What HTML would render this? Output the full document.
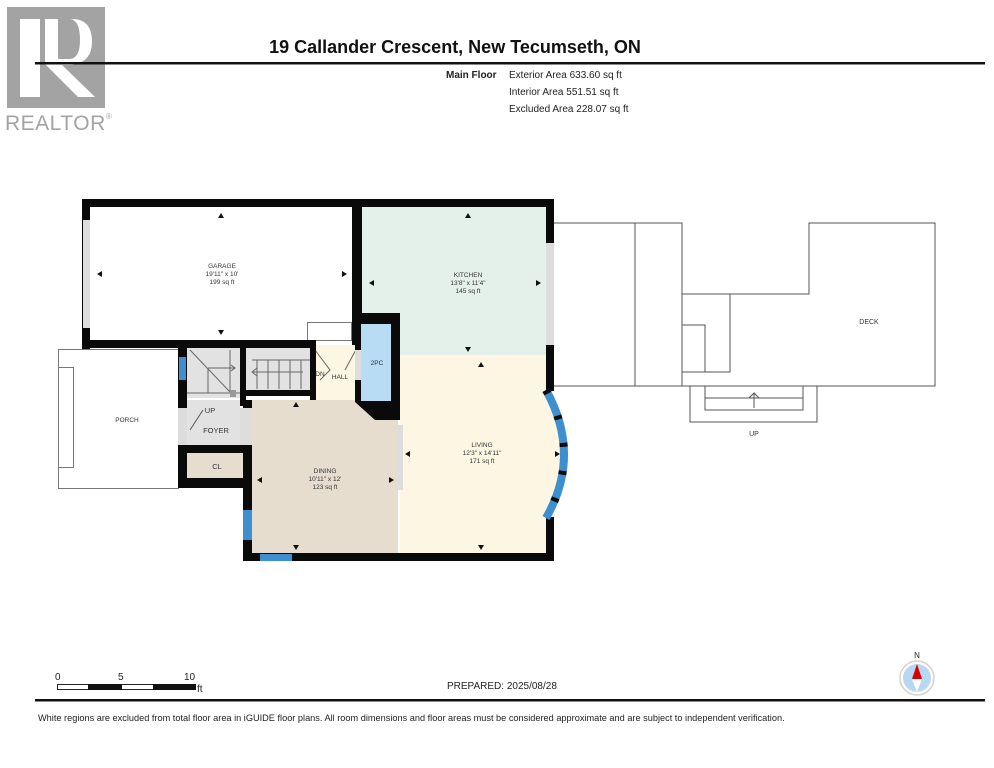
<!DOCTYPE html>
<html><head><meta charset="utf-8"><style>
html,body{margin:0;padding:0;background:#fff}
svg{display:block}
text{font-family:"Liberation Sans",Arial,sans-serif}
</style></head><body>
<svg width="994" height="768" viewBox="0 0 994 768" xmlns="http://www.w3.org/2000/svg">
<!-- Realtor logo -->
<rect x="7" y="7" width="98" height="101" fill="#a3a3a3"/>
<rect x="20" y="19" width="20" height="78" fill="#fff"/>
<path d="M45 19 H72 Q92 19 92 42 Q92 62 72 65 L62 65 L95 97 L78 97 L45 64 Z" fill="#fff"/>
<path d="M58 19 H70 Q80 20 80 40 Q80 58 70 59 H58 Z" fill="#a3a3a3"/>
<text x="5" y="130" font-size="21" fill="#a3a3a3" letter-spacing="0.5">REALTOR</text>
<text x="106" y="119" font-size="8" fill="#a3a3a3">®</text>
<!-- Title -->
<text x="455" y="53" font-size="18" font-weight="bold" text-anchor="middle" fill="#111">19 Callander Crescent, New Tecumseth, ON</text>
<rect x="35" y="62" width="950" height="2.5" fill="#111"/>
<text x="446" y="78" font-size="10" font-weight="bold" fill="#222">Main Floor</text>
<text x="509" y="78" font-size="10" fill="#222">Exterior Area 633.60 sq ft</text>
<text x="509" y="95" font-size="10" fill="#222">Interior Area 551.51 sq ft</text>
<text x="509" y="112" font-size="10" fill="#222">Excluded Area 228.07 sq ft</text>

<!-- Deck -->
<g fill="none" stroke="#555" stroke-width="1">
<path d="M553 223 H682 V294 H809 V223 H935 V386 H553"/>
<line x1="635" y1="223" x2="635" y2="386"/>
<line x1="682" y1="294" x2="682" y2="386"/>
<rect x="682" y="294" width="48" height="78"/>
<rect x="682" y="325" width="23" height="47"/>
<path d="M690 386 V422 H817 V386"/>
<path d="M705 386 V410 H803 V386"/>
<line x1="705" y1="398" x2="803" y2="398"/>
<line x1="754" y1="408" x2="754" y2="393"/>
<path d="M749 398 L754 393 L759 398"/>
</g>
<text x="869" y="324" font-size="7" fill="#333" text-anchor="middle">DECK</text>
<text x="754" y="436" font-size="7" fill="#333" text-anchor="middle">UP</text>

<!-- Porch -->
<rect x="58.5" y="349.5" width="120" height="139" fill="#fff" stroke="#777"/>
<rect x="58.5" y="367.5" width="15" height="100" fill="#fff" stroke="#777"/>
<text x="127" y="422" font-size="6.5" fill="#333" text-anchor="middle">PORCH</text>

<!-- Room fills -->
<rect x="90" y="207" width="262" height="133" fill="#fff"/>
<rect x="362" y="207" width="184" height="148" fill="#e4f1ea"/>
<path d="M400 355 H546 V390 Q582 455 546 518 V553 H400 Z" fill="#fdf6e3"/>
<rect x="252" y="400" width="146" height="153" fill="#e6ddcf"/>
<path d="M313 345 H355 V400 H313 Z" fill="#fdf6e3"/>
<rect x="246" y="348" width="66" height="42" fill="#e2e2e2"/>
<rect x="187" y="348" width="53" height="50" fill="#e2e2e2"/>
<rect x="187" y="400" width="53" height="45" fill="#e2e2e2"/>
<rect x="187" y="453" width="58" height="25" fill="#e6ddcf"/>
<rect x="307.5" y="322.5" width="44" height="18" fill="#fff" stroke="#777"/>

<!-- Stair lines -->
<g stroke="#666" stroke-width="1" fill="none">
<line x1="252" y1="360" x2="312" y2="360"/>
<line x1="257" y1="360" x2="257" y2="389"/><line x1="268" y1="360" x2="268" y2="389"/>
<line x1="279" y1="360" x2="279" y2="389"/><line x1="290" y1="360" x2="290" y2="389"/>
<line x1="301" y1="360" x2="301" y2="389"/>
<line x1="253" y1="372" x2="303" y2="372"/><path d="M257 368 L252 372 L257 376"/>
<line x1="187" y1="393" x2="240" y2="393"/>
<line x1="190" y1="350" x2="230" y2="392"/>
<line x1="208" y1="368" x2="208" y2="393"/><line x1="208" y1="368" x2="235" y2="368"/>
<line x1="230" y1="350" x2="230" y2="392"/><path d="M231 365 L235 368 L231 371"/>
<path d="M315 350 L330 370 L320 380"/>
<path d="M358 346 L345 370"/>
</g>
<rect x="230" y="390" width="6" height="7" fill="#999"/>

<!-- Walls -->
<g fill="#0a0a0a">
<rect x="82" y="199" width="471" height="8"/>
<rect x="82" y="199" width="8" height="150"/>
<rect x="82" y="340" width="234" height="8"/>
<rect x="352" y="199" width="10" height="146"/>
<rect x="546" y="199" width="8" height="44"/>
<rect x="546" y="345" width="8" height="46"/>
<rect x="546" y="517" width="8" height="44"/>
<rect x="243" y="553" width="311" height="8"/>
<rect x="243" y="400" width="9" height="161"/>
<rect x="178" y="348" width="9" height="140"/>
<rect x="178" y="478" width="74" height="10"/>
<rect x="240" y="348" width="6" height="58"/>
<rect x="240" y="390" width="76" height="6"/>
<rect x="310" y="348" width="6" height="52"/>
<rect x="187" y="445" width="58" height="8"/>
<path d="M355 313 H400 V420 H375 L355 402 Z"/>
</g>
<rect x="361" y="324" width="30" height="77" fill="#b9dcf5"/>
<!-- windows/openings -->
<rect x="83" y="220" width="7" height="108" fill="#ddd"/>
<rect x="546" y="243" width="8" height="102" fill="#ddd"/>
<rect x="398" y="425" width="5" height="65" fill="#ddd"/>
<rect x="355" y="350" width="6" height="30" fill="#ddd"/>
<rect x="178" y="408" width="9" height="37" fill="#ddd"/>
<rect x="240" y="408" width="12" height="37" fill="#ddd"/>
<rect x="179" y="357" width="7" height="23" fill="#3d8fd0"/>
<rect x="243" y="510" width="9" height="30" fill="#3d8fd0"/>
<rect x="260" y="554" width="32" height="7" fill="#3d8fd0"/>
<path d="M546 390 Q582 455 546 518" fill="none" stroke="#3d8fd0" stroke-width="8"/>
<path d="M546 390 Q582 455 546 518" fill="none" stroke="#0a0a0a" stroke-width="8" stroke-dasharray="4 24"/>
<path d="M190 430 L203 410" stroke="#555" fill="none"/>

<!-- Labels -->
<g fill="#333" text-anchor="middle" font-size="6.5">
<text x="222" y="268">GARAGE</text><text x="222" y="276">19'11" x 10'</text><text x="222" y="284">199 sq ft</text>
<text x="468" y="277">KITCHEN</text><text x="468" y="285">13'8" x 11'4"</text><text x="468" y="293">145 sq ft</text>
<text x="482" y="447">LIVING</text><text x="482" y="455">12'3" x 14'11"</text><text x="482" y="463">171 sq ft</text>
<text x="325" y="473">DINING</text><text x="325" y="481">10'11" x 12'</text><text x="325" y="489">123 sq ft</text>
<text x="377" y="365">2PC</text>
<text x="320" y="376">DN</text><text x="340" y="379">HALL</text>
<text x="210" y="413" font-size="7.5">UP</text>
<text x="216" y="433" font-size="7.5">FOYER</text>
<text x="217" y="469" font-size="7.5">CL</text>
</g>
<!-- dimension arrowheads -->
<g fill="#111">
<path d="M221 213 l-3 5 h6 z"/><path d="M221 335 l-3 -5 h6 z"/>
<path d="M97 274 l5 -3 v6 z"/><path d="M347 274 l-5 -3 v6 z"/>
<path d="M468 213 l-3 5 h6 z"/><path d="M468 352 l-3 -5 h6 z"/>
<path d="M369 283 l5 -3 v6 z"/><path d="M541 283 l-5 -3 v6 z"/>
<path d="M481 362 l-3 5 h6 z"/><path d="M481 550 l-3 -5 h6 z"/>
<path d="M405 454 l5 -3 v6 z"/><path d="M560 454 l-5 -3 v6 z"/>
<path d="M296 402 l-3 5 h6 z"/><path d="M296 550 l-3 -5 h6 z"/>
<path d="M257 480 l5 -3 v6 z"/><path d="M394 480 l-5 -3 v6 z"/>
</g>

<!-- Scale -->
<g font-size="10" fill="#222">
<text x="55" y="680">0</text><text x="118" y="680">5</text><text x="184" y="680">10</text><text x="197" y="692">ft</text>
</g>
<rect x="57.5" y="684.5" width="138" height="5" fill="#fff" stroke="#222"/>
<rect x="88" y="684" width="34" height="6" fill="#111"/>
<rect x="153" y="684" width="43" height="6" fill="#111"/>
<text x="447" y="689" font-size="10" fill="#222">PREPARED: 2025/08/28</text>
<!-- Compass -->
<text x="917" y="658" font-size="8" fill="#222" text-anchor="middle">N</text>
<circle cx="917" cy="678" r="17" fill="#fff" stroke="#d8d0c8" stroke-width="1.5"/>
<circle cx="917" cy="678" r="14" fill="#b7d8f3"/>
<path d="M917 664 L922 679 H912 Z" fill="#d90000"/>
<path d="M917 692 L922 679 H912 Z" fill="#fff"/>
<rect x="35" y="699" width="950" height="2.5" fill="#111"/>
<text x="38" y="721" font-size="9.2" fill="#222">White regions are excluded from total floor area in iGUIDE floor plans. All room dimensions and floor areas must be considered approximate and are subject to independent verification.</text>
</svg>
</body></html>
